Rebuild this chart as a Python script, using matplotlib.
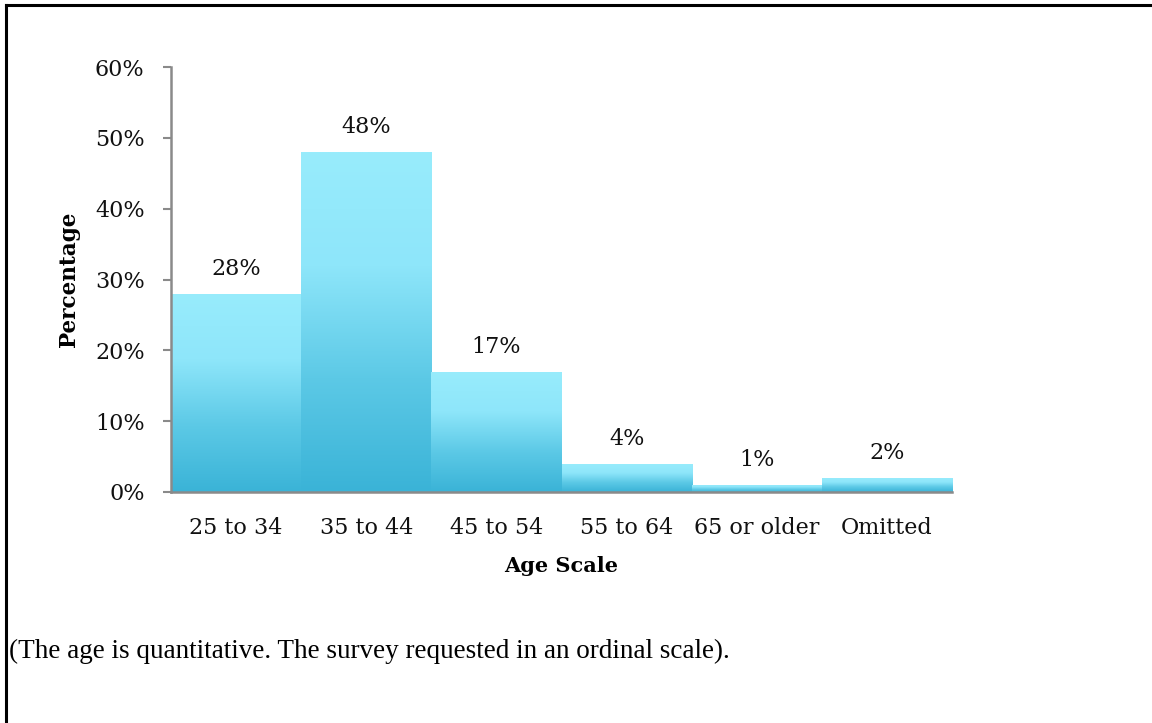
import numpy as np
import matplotlib
matplotlib.use("Agg")
import matplotlib.pyplot as plt
from matplotlib.lines import Line2D
from matplotlib.colors import LinearSegmentedColormap
from matplotlib.ticker import PercentFormatter

# Survey results: share of respondents per age group
age_groups = ["25 to 34", "35 to 44", "45 to 54", "55 to 64", "65 or older", "Omitted"]
shares = [28, 48, 17, 4, 1, 2]
y_ticks = [0, 10, 20, 30, 40, 50, 60]
caption = "(The age is quantitative. The survey requested in an ordinal scale)."

W, H = 1152, 723
fig = plt.figure(figsize=(W / 100, H / 100), dpi=100)
ax = fig.add_axes([171 / W, 1 - 492 / H, (952 - 171) / W, (492 - 67) / H])

label_font = dict(family="DejaVu Serif", size=16, color="#111111")
gray = "#8a8a8a"

# Bars get a vertical cyan gradient, dark at the base and light at the top
cmap = LinearSegmentedColormap.from_list("cyan_fade", ["#3ab3d7", "#5cc9e6", "#8ee6fa", "#98ecfc"])
grad = np.linspace(0, 1, 256).reshape(-1, 1)

x = np.arange(len(age_groups))
bars = ax.bar(x, shares, width=1.0, color="none", edgecolor="none")
for bar in bars:
    x0, y0 = bar.get_x(), bar.get_y()
    w, h = bar.get_width(), bar.get_height()
    img = ax.imshow(grad, cmap=cmap, origin="lower", aspect="auto",
                    extent=[x0, x0 + w, y0, y0 + h], zorder=2)
    img.set_clip_path(bar)

for xi, v in zip(x, shares):
    ax.annotate(f"{v}%", (xi, v), xytext=(0, 10), textcoords="offset points",
                ha="center", va="bottom", **label_font)

ax.set_xlim(-0.5, len(age_groups) - 0.5)
ax.set_ylim(0, 60)
ax.set_yticks(y_ticks)
ax.yaxis.set_major_formatter(PercentFormatter(decimals=0))
ax.set_xticks(x)
ax.set_xticklabels(age_groups)

for lab in ax.get_xticklabels() + ax.get_yticklabels():
    lab.set_fontfamily(label_font["family"])
    lab.set_fontsize(label_font["size"])
    lab.set_color(label_font["color"])

ax.tick_params(axis="y", direction="out", length=6, width=1.5, color=gray, pad=13)
ax.tick_params(axis="x", length=0, pad=18)

for side in ["top", "right"]:
    ax.spines[side].set_visible(False)
for side in ["left", "bottom"]:
    ax.spines[side].set_color(gray)
    ax.spines[side].set_linewidth(1.8)
    ax.spines[side].set_zorder(3)

ax.set_ylabel("Percentage", fontfamily="DejaVu Serif", fontsize=15.5, fontweight="bold", labelpad=11)
ax.set_xlabel("Age Scale", fontfamily="DejaVu Serif", fontsize=15, fontweight="bold", labelpad=12)

# Frame lines along the top and left edge
fig.add_artist(Line2D([6 / W, 1], [1 - 5 / H, 1 - 5 / H], color="black", lw=2.2))
fig.add_artist(Line2D([6 / W, 6 / W], [0, 1 - 5 / H], color="black", lw=2.2))

fig.text(9 / W, 1 - 651 / H, caption, family="Liberation Serif", fontsize=19.5,
         ha="left", va="center", color="black")

fig.savefig("out.png", dpi=100)
